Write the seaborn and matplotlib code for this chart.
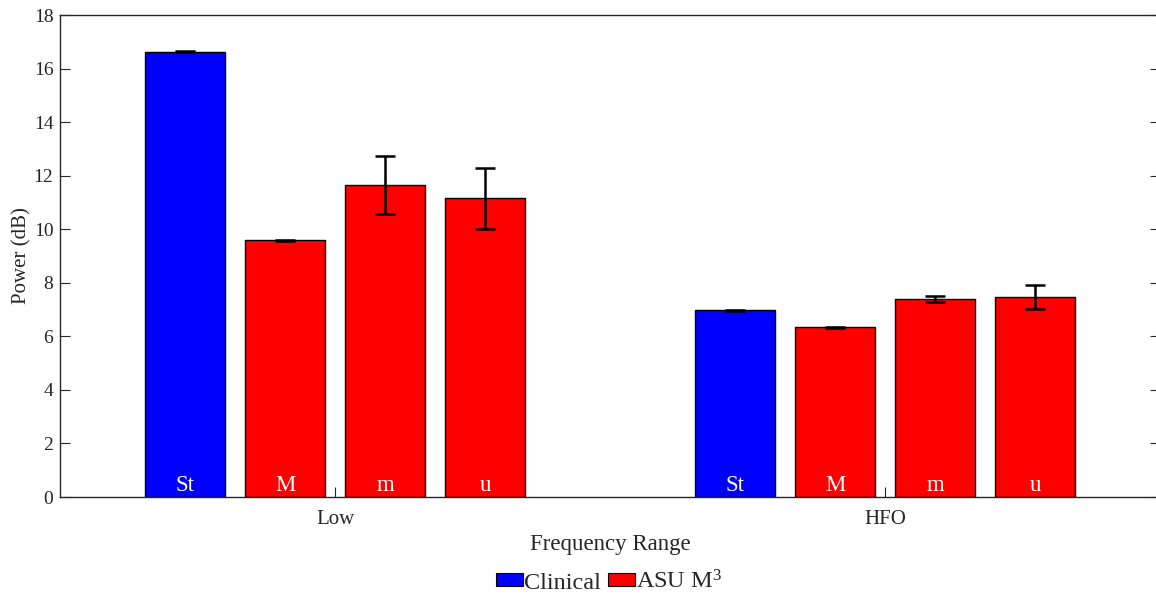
import numpy as np
import pandas as pd
import matplotlib
matplotlib.use("Agg")
import matplotlib.pyplot as plt
from matplotlib.patches import Patch
import seaborn as sns

# Data
ranges = ["Low", "HFO"]
bars = ["St", "M", "m", "u"]
low_power = [16.63, 9.58, 11.65, 11.15]
low_err = [0.02, 0.02, 1.07, 1.15]
hfo_power = [6.97, 6.33, 7.40, 7.47]
hfo_err = [0.02, 0.03, 0.11, 0.45]
bar_colors = {"St": "#0000FF", "M": "#FF0000", "m": "#FF0000", "u": "#FF0000"}
legend_labels = ["Clinical", "ASU M$^3$"]

sns.set_style("ticks")
plt.rcParams["font.family"] = ["Liberation Serif", "DejaVu Serif"]
plt.rcParams["mathtext.fontset"] = "custom"
plt.rcParams["mathtext.rm"] = "Liberation Serif"
plt.rcParams["mathtext.it"] = "Liberation Serif:italic"

df = pd.DataFrame({
    "range": np.repeat(ranges, len(bars)),
    "bar": bars * len(ranges),
    "power": low_power + hfo_power,
    "err": low_err + hfo_err,
})

fig = plt.figure(figsize=(11.56, 5.98), dpi=100)
ax = fig.add_axes([60.3 / 1156, 1 - 497 / 598, 1100 / 1156, 482 / 598])

sns.barplot(data=df, x="range", y="power", hue="bar", order=ranges,
            hue_order=bars, palette=bar_colors, width=0.727, gap=0.2,
            edgecolor="black", linewidth=1.0, errorbar=None, legend=False,
            saturation=1, ax=ax)

# Error bars and in-bar labels at each bar center
for level, container in zip(bars, ax.containers):
    sub = df[df["bar"] == level].set_index("range").loc[ranges]
    for rect, val, err in zip(container.patches, sub["power"], sub["err"]):
        cx = rect.get_x() + rect.get_width() / 2
        ax.errorbar(cx, val, yerr=err, color="black", linewidth=1.8,
                    capsize=7, capthick=1.8, zorder=5)
        ax.text(cx, 0.42, level, color="white", fontsize=16.5,
                ha="center", va="center", zorder=6)

ax.set_xlim(-0.5, 1.5)
ax.set_ylim(0, 18)
ax.set_yticks(np.arange(0, 19, 2))
ax.set_xlabel("Frequency Range", fontsize=16.5, color="#262626", labelpad=4)
ax.set_ylabel("Power (dB)", fontsize=15, color="#262626", labelpad=1.5)

for s in ax.spines.values():
    s.set_visible(True)
    s.set_color("#262626")
    s.set_linewidth(1.0)

ax.tick_params(axis="y", direction="in", length=7.5, width=0.8, color="#262626",
               labelsize=14, labelcolor="#262626", right=True, pad=5)
ax.tick_params(axis="x", direction="in", length=7, width=0.8, color="#262626",
               labelsize=15, labelcolor="#262626", pad=9)

handles = [Patch(facecolor="#0000FF", edgecolor="black", linewidth=0.8),
           Patch(facecolor="#FF0000", edgecolor="black", linewidth=0.8)]
fig.legend(handles, legend_labels, loc="center",
           bbox_to_anchor=(0.527, 1 - 582 / 598), ncol=2, frameon=False,
           fontsize=17.5, handlelength=1.1, handleheight=0.45,
           handletextpad=0.05, columnspacing=0.3)

fig.savefig("out.png", dpi=100)
